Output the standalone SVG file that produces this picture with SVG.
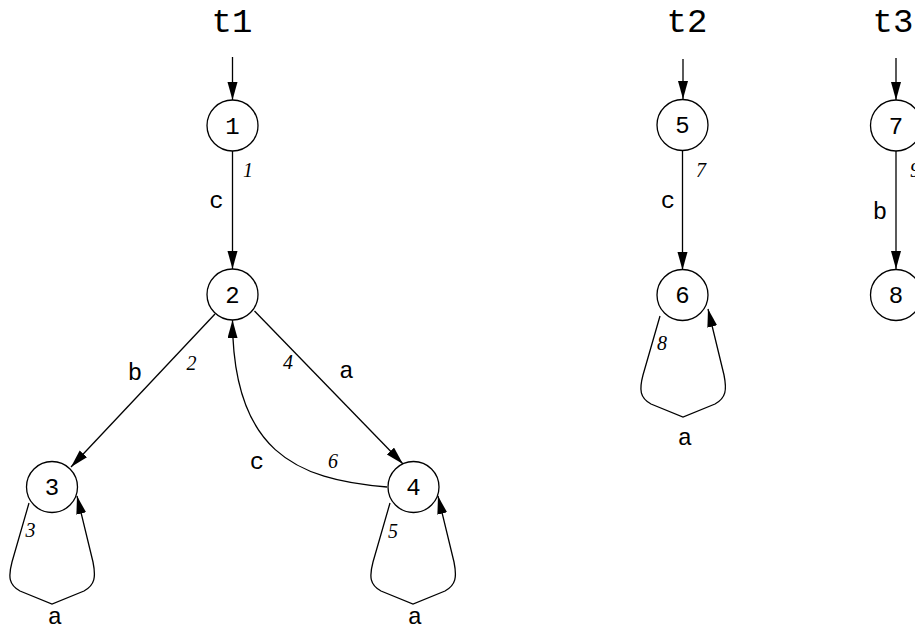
<svg xmlns="http://www.w3.org/2000/svg" width="915" height="631" viewBox="0 0 915 631">
<defs>
<style>
.n circle{fill:#fff;stroke:#000;stroke-width:1.3}
.n text,.lb{font-family:"Liberation Mono","Courier New",monospace;font-size:24px;text-anchor:middle;fill:#000}
.tt{font-family:"Liberation Mono","Courier New",monospace;font-size:34px;text-anchor:middle;fill:#000}
.num{font-family:"Liberation Serif","Times New Roman",serif;font-style:italic;font-size:20px;text-anchor:middle;fill:#000}
.e{fill:none;stroke:#000;stroke-width:1.3;marker-end:url(#ah)}
</style>
<marker id="ah" markerUnits="userSpaceOnUse" markerWidth="20" markerHeight="12" refX="18" refY="5" orient="auto"><path d="M0,0 L18,5 L0,10 z" fill="#000"/></marker>
</defs>
<rect width="915" height="631" fill="#fff"/>
<g id="titles">
<text class="tt" x="232" y="32">t1</text>
<text class="tt" x="687" y="32">t2</text>
<text class="tt" x="893" y="32">t3</text>
</g>
<g id="connectors">
<line class="e" x1="232.5" y1="57" x2="232.5" y2="100"/>
<line class="e" x1="683" y1="59" x2="683" y2="99"/>
<line class="e" x1="896" y1="58" x2="896" y2="100"/>
<line class="e" x1="232.5" y1="151" x2="232.5" y2="269"/>
<line class="e" x1="682.5" y1="150" x2="682.5" y2="270"/>
<line class="e" x1="896" y1="151" x2="896" y2="269"/>
<line class="e" x1="215" y1="314" x2="71" y2="467"/>
<line class="e" x1="254.5" y1="311" x2="403" y2="464"/>
<path class="e" d="M387,487 C295,480 232.5,450 232.5,320"/>
<path class="e" d="M29,503 L12,562 C8,577 9,585 20,591 L52,604 L84,591 C95,585 96,577 93,562 L77,496"/>
<path class="e" transform="translate(361,0)" d="M29,503 L12,562 C8,577 9,585 20,591 L52,604 L84,591 C95,585 96,577 93,562 L77,496"/>
<path class="e" transform="translate(631,-187)" d="M29,503 L12,562 C8,577 9,585 20,591 L52,604 L84,591 C95,585 96,577 93,562 L77,496"/>
</g>
<g id="edge-labels">
<text class="lb" x="216.5" y="208">c</text>
<text class="num" x="248" y="177">1</text>
<text class="lb" x="135" y="380">b</text>
<text class="num" x="191.5" y="370">2</text>
<text class="num" x="288" y="369">4</text>
<text class="lb" x="346.5" y="378">a</text>
<text class="lb" x="257" y="469">c</text>
<text class="num" x="333" y="468">6</text>
<text class="num" x="30.5" y="537">3</text>
<text class="lb" x="55" y="624">a</text>
<text class="num" x="393" y="538">5</text>
<text class="lb" x="415" y="624">a</text>
<text class="lb" x="668" y="208">c</text>
<text class="num" x="701" y="177">7</text>
<text class="num" x="662" y="350">8</text>
<text class="lb" x="685" y="445">a</text>
<text class="lb" x="880" y="219">b</text>
<text class="num" x="915" y="177">9</text>
</g>
<g id="node1" class="n"><circle cx="232.5" cy="125.5" r="25.5"/><text x="232.5" y="133.5">1</text></g>
<g id="node2" class="n"><circle cx="232.5" cy="294.5" r="25.5"/><text x="232.5" y="302.5">2</text></g>
<g id="node3" class="n"><circle cx="52" cy="487" r="25.5"/><text x="52" y="495">3</text></g>
<g id="node4" class="n"><circle cx="413.5" cy="487" r="25.5"/><text x="413.5" y="495">4</text></g>
<g id="node5" class="n"><circle cx="682.5" cy="125" r="25.5"/><text x="682.5" y="133">5</text></g>
<g id="node6" class="n"><circle cx="682.5" cy="295" r="25.5"/><text x="682.5" y="303">6</text></g>
<g id="node7" class="n"><circle cx="896" cy="125.5" r="25.5"/><text x="896" y="133.5">7</text></g>
<g id="node8" class="n"><circle cx="896" cy="295" r="25.5"/><text x="896" y="303">8</text></g>
</svg>
